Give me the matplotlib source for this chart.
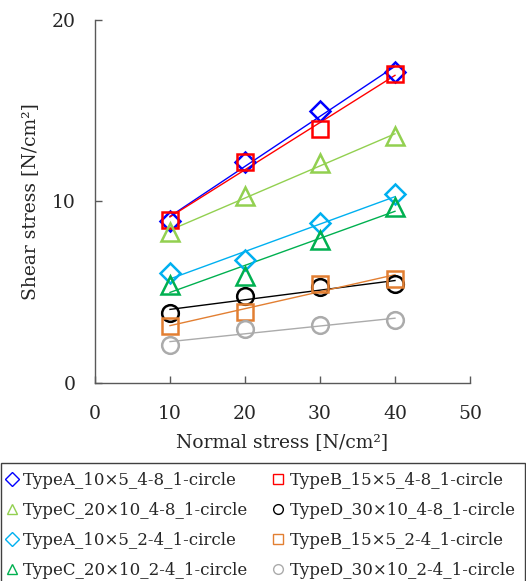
import numpy as np
import matplotlib
matplotlib.use("Agg")
import matplotlib.pyplot as plt
from matplotlib.lines import Line2D
from matplotlib.patches import Rectangle

plt.rcParams['font.family'] = ['DejaVu Serif']

normal_stress = [10, 20, 30, 40]

labels = [
    "TypeA_10×5_4-8_1-circle",
    "TypeB_15×5_4-8_1-circle",
    "TypeC_20×10_4-8_1-circle",
    "TypeD_30×10_4-8_1-circle",
    "TypeA_10×5_2-4_1-circle",
    "TypeB_15×5_2-4_1-circle",
    "TypeC_20×10_2-4_1-circle",
    "TypeD_30×10_2-4_1-circle",
]

typeA_48 = [8.9, 12.2, 15.0, 17.15]
typeB_48 = [9.0, 12.15, 14.0, 17.05]
typeC_48 = [8.3, 10.3, 12.1, 13.6]
typeD_48 = [3.85, 4.8, 5.3, 5.45]
typeA_24 = [6.05, 6.75, 8.8, 10.4]
typeB_24 = [3.15, 3.9, 5.45, 5.75]
typeC_24 = [5.4, 5.9, 7.9, 9.7]
typeD_24 = [2.1, 2.95, 3.2, 3.45]

series = [typeA_48, typeB_48, typeC_48, typeD_48,
          typeA_24, typeB_24, typeC_24, typeD_24]
colors = ["#0000FF", "#FF0000", "#92D050", "#000000",
          "#00B0F0", "#E27F32", "#00B050", "#ABABAB"]
markers = ["D", "s", "^", "o", "D", "s", "^", "o"]
msizes = [10, 12, 13, 12, 10, 12, 13, 12]

fig = plt.figure(figsize=(5.26, 5.81), dpi=100)
ax = fig.add_axes([0.1806, 0.3408, 0.7129, 0.6248])

x = np.array(normal_stress, dtype=float)
for ys, c, m, ms in zip(series, colors, markers, msizes):
    ys = np.array(ys)
    k, b = np.polyfit(x, ys, 1)
    ax.plot(x, k * x + b, color=c, lw=1.0, zorder=2)
    ax.plot(x, ys, ls='none', marker=m, ms=ms, mfc='none', mec=c,
            mew=1.8, zorder=3)

ax.set_xlim(0, 50)
ax.set_ylim(0, 20)
ax.set_xticks([0, 10, 20, 30, 40, 50])
ax.set_yticks([0, 10, 20])
for s in ['top', 'right']:
    ax.spines[s].set_visible(False)
for s in ['left', 'bottom']:
    ax.spines[s].set_color('#595959')
    ax.spines[s].set_linewidth(1.0)
ax.tick_params(direction='in', length=5, width=1.0, color='#595959',
               labelsize=13.5, labelcolor='#262626')
ax.tick_params(axis='x', pad=16)
ax.tick_params(axis='y', pad=14)
ax.set_xlabel("Normal stress [N/cm²]", fontsize=13.5, color='#262626', labelpad=7)
ax.set_ylabel("Shear stress [N/cm²]", fontsize=13.5, color='#262626', labelpad=9)

# legend frame spanning the full width below the plot
fig.patches.append(Rectangle((0.0015, -0.01), 0.996, 0.213,
                             transform=fig.transFigure, fill=False,
                             edgecolor='#404040', lw=1.0))

# legend filled row-major like the reference (matplotlib fills column-major)
order = [0, 2, 4, 6, 1, 3, 5, 7]
handles = [Line2D([], [], ls='none', marker=markers[i], ms=7, mfc='none',
                  mec=colors[i], mew=1.0) for i in order]
leg = fig.legend(handles, [labels[i] for i in order], loc='upper left',
                 bbox_to_anchor=(0.0, 0.197), ncol=2, fontsize=12,
                 frameon=False, handlelength=0.8, handletextpad=0.3,
                 borderaxespad=0.0, labelspacing=0.78, columnspacing=1.35,
                 borderpad=0.3)
for t in leg.get_texts():
    t.set_color('#262626')

fig.savefig("out.png", dpi=100)
